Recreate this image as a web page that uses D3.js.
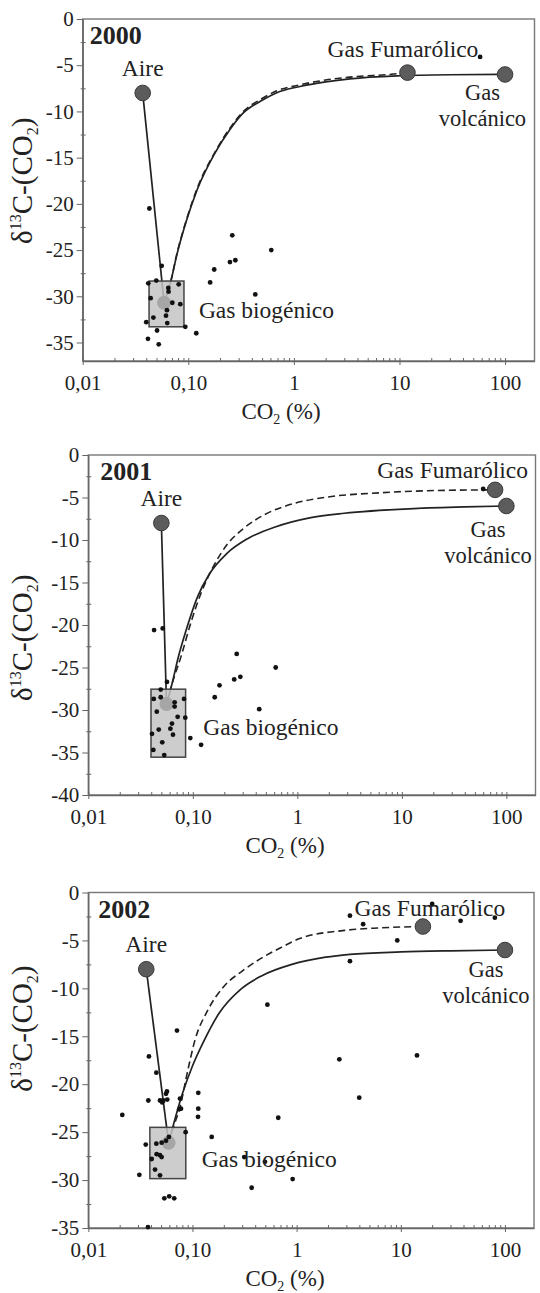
<!DOCTYPE html>
<html>
<head>
<meta charset="utf-8">
<script src="https://cdn.jsdelivr.net/npm/d3@7"></script>
<style>
body { margin: 0; background: #fff; }
svg text { font-family: "Liberation Serif", "Times New Roman", Times, "DejaVu Serif", serif; fill: #222; }
</style>
</head>
<body>
<svg id="chart" width="540" height="1293"></svg>
<script>
// Datos: CO2 (%) vs δ13C-(CO2)
const years = ["2000", "2001", "2002"];
const xTickValues = [0.01, 0.1, 1, 10, 100];
const xTickLabels = ["0,01", "0,10", "1", "10", "100"];

// Miembros extremos [CO2, δ13C] por año
const aire = [[0.037, -8], [0.05, -8], [0.036, -8]];
const fumarolico = [[11.9, -5.8], [78, -4.1], [16.3, -3.55]];
const volcanico = [[100, -6], [100, -6], [100, -6]];
const biogenico = [[0.059, -30.7], [0.056, -29.3], [0.059, -26.1]];
// Caja del gas biogénico [CO2 min, CO2 max, δ superior, δ inferior]
const cajaBio = [[0.0425, 0.091, -28.35, -33.3], [0.0398, 0.0853, -27.55, -35.55], [0.039, 0.0863, -24.5, -29.85]];

// Muestras
const muestras2000 = [
    [0.0428, -20.5], [0.056, -26.7], [0.0418, -28.6], [0.0498, -28.3], [0.0811, -28.7],
    [0.0647, -29.1], [0.065, -29.5], [0.044, -30.2], [0.0706, -30.7], [0.084, -30.85],
    [0.0628, -31.5], [0.0615, -32.1], [0.0467, -32.3], [0.040, -32.8], [0.0632, -32.9],
    [0.0937, -33.3], [0.0506, -33.7], [0.0415, -34.6], [0.0525, -35.2], [0.119, -34.0],
    [0.161, -28.5], [0.176, -27.1], [0.248, -26.3], [0.279, -26.1], [0.261, -23.4],
    [0.431, -29.8], [0.611, -25.0], [58, -4.1]
];
const muestras2001 = [
    [0.0426, -20.6], [0.0515, -20.4], [0.0566, -26.7], [0.0493, -27.6], [0.0493, -28.5],
    [0.0423, -28.7], [0.067, -29.1], [0.067, -29.6], [0.0824, -28.7], [0.0452, -30.2],
    [0.0716, -30.8], [0.0847, -30.9], [0.0632, -31.6], [0.061, -32.2], [0.0472, -32.3],
    [0.0646, -32.9], [0.0407, -32.8], [0.0946, -33.3], [0.051, -33.8], [0.12, -34.1],
    [0.0419, -34.7], [0.0533, -35.3], [0.162, -28.5], [0.18, -27.1], [0.249, -26.4],
    [0.285, -26.1], [0.263, -23.4], [0.432, -29.9], [0.621, -25.0], [60, -4.0]
];
const muestras2002 = [
    [0.0212, -23.2], [0.0382, -17.1], [0.045, -18.8], [0.0377, -21.7], [0.0488, -21.7],
    [0.0513, -21.9], [0.0525, -21.7], [0.0557, -21.0], [0.0569, -20.75], [0.0573, -21.6],
    [0.071, -14.4], [0.0759, -21.5], [0.0747, -22.6], [0.0776, -22.55], [0.1137, -20.9],
    [0.1137, -22.55], [0.113, -23.4], [0.086, -25.0], [0.153, -25.5], [0.0356, -26.3],
    [0.045, -26.2], [0.0506, -26.1], [0.0557, -25.9], [0.0594, -25.5], [0.0453, -27.3],
    [0.0488, -27.4], [0.0506, -27.6], [0.0406, -27.8], [0.0437, -28.9], [0.0309, -29.45],
    [0.0488, -29.5], [0.0537, -31.9], [0.0598, -31.7], [0.0668, -31.9], [0.0374, -34.9],
    [0.314, -27.6], [0.496, -28.1], [0.37, -30.8], [0.916, -29.9], [0.666, -23.5],
    [0.524, -11.7], [2.57, -17.4], [3.99, -21.4], [3.25, -7.16], [3.25, -2.42],
    [4.35, -3.3], [9.25, -5.0], [14.3, -17.0], [20, -1.2], [37.5, -2.95], [80, -2.63]
];

// Curvas de mezcla (biogénico -> volcánico: continua; biogénico -> fumarólico: discontinua)
const mezclaVolc2000 = [
    [0.059, -30.7], [0.0686, -28.3], [0.0776, -25.6], [0.095, -22.0], [0.1216, -18.45],
    [0.177, -14.6], [0.25, -11.9], [0.323, -10.3], [0.5, -8.8], [0.68, -8.0], [1.14, -7.3],
    [2, -6.8], [3.4, -6.47], [9.4, -6.15], [30, -6.03], [100, -6]
];
const mezclaFum2000 = [
    [0.059, -30.7], [0.0686, -28.3], [0.0776, -25.5], [0.095, -21.9], [0.1216, -18.3],
    [0.177, -14.5], [0.25, -11.75], [0.323, -10.15], [0.5, -8.6], [0.68, -7.8], [1.14, -7.12],
    [2, -6.6], [3.4, -6.29], [9.4, -5.93], [11.9, -5.8]
];
const mezclaVolc2001 = [
    [0.056, -29.3], [0.063, -27.0], [0.0726, -23.8], [0.0879, -20.3], [0.1104, -16.75],
    [0.144, -14.0], [0.211, -11.6], [0.334, -9.85], [0.614, -8.47], [1.31, -7.4],
    [2.82, -6.85], [13, -6.3], [40, -6.1], [100, -6.0]
];
const mezclaFum2001 = [
    [0.056, -29.3], [0.063, -27.0], [0.0783, -23.45], [0.0948, -19.9], [0.119, -16.35],
    [0.156, -13.2], [0.211, -10.6], [0.309, -8.6], [0.489, -7.0], [0.9, -5.75],
    [1.93, -4.95], [6.04, -4.45], [27.8, -4.15], [78, -4.1]
];
const mezclaVolc2002 = [
    [0.059, -26.1], [0.0646, -24.5], [0.08, -21.0], [0.1, -18.1], [0.13, -15.4],
    [0.18, -12.6], [0.29, -10.1], [0.46, -8.7], [0.9, -7.5], [1.9, -6.75],
    [3.25, -6.45], [10, -6.2], [30, -6.08], [100, -6.0]
];
const mezclaFum2002 = [
    [0.059, -26.1], [0.066, -24.4], [0.0759, -22.4], [0.09, -18.6], [0.1057, -15.4],
    [0.14, -12.3], [0.2, -9.8], [0.3, -8.2], [0.45, -6.9], [0.72, -5.7],
    [1.07, -4.8], [2.9, -3.95], [6, -3.7], [16.3, -3.55]
];

const muestras = [muestras2000, muestras2001, muestras2002];
const mezclaVolc = [mezclaVolc2000, mezclaVolc2001, mezclaVolc2002];
const mezclaFum = [mezclaFum2000, mezclaFum2001, mezclaFum2002];

// Disposición de cada panel (píxeles) y posición de las etiquetas (en unidades de datos)
const layout = [
    { top: 19, bottom: 361, left: 82.7, right: 534.5, yMin: -37, yTitleAt: -17.5, xTitleX: 281,
      fumLbl: [10.8, -4.07], volLbl: [61, -9.09], bioLbl: [0.126, -32.3], yearDx: 7 },
    { top: 455, bottom: 795, left: 88.3, right: 535.5, yMin: -40, yTitleAt: -21.5, xTitleX: 285,
      fumLbl: [30.6, -2.74], volLbl: [66.8, -10.0], bioLbl: [0.126, -32.9], yearDx: 12 },
    { top: 892.5, bottom: 1228, left: 88.3, right: 534, yMin: -35, yTitleAt: -14.2, xTitleX: 285,
      fumLbl: [19.0, -2.46], volLbl: [65.6, -9.14], bioLbl: [0.1225, -28.6], yearDx: 10 }
];

const svg = d3.select("#chart");

years.forEach((year, i) => {
    const L = layout[i];
    const x = d3.scaleLog().domain([0.01, 190]).range([L.left, L.right]);
    const y = d3.scaleLinear().domain([L.yMin, 0]).range([L.bottom, L.top]);
    const g = svg.append("g");

    // Marco
    g.append("rect")
        .attr("x", L.left).attr("y", L.top)
        .attr("width", L.right - L.left).attr("height", L.bottom - L.top)
        .attr("fill", "none").attr("stroke", "#777").attr("stroke-width", 1.4);

    // Eje X: marcas menores
    const minorX = [];
    xTickValues.forEach(d => { for (let k = 2; k <= 9; k++) if (d * k <= 190) minorX.push(d * k); });
    g.append("g")
        .attr("transform", `translate(0,${L.bottom})`)
        .call(d3.axisBottom(x).tickValues(minorX).tickSize(-3).tickSizeOuter(0).tickFormat(""))
        .call(a => a.select(".domain").remove())
        .call(a => a.selectAll("line").attr("stroke", "#666"));

    // Eje X: marcas principales
    g.append("g")
        .attr("transform", `translate(0,${L.bottom})`)
        .call(d3.axisBottom(x).tickValues(xTickValues).tickFormat((d, k) => xTickLabels[k])
            .tickSize(4).tickSizeOuter(0).tickPadding(10))
        .call(a => a.select(".domain").attr("stroke", "#666").attr("stroke-width", 1.4))
        .call(a => a.selectAll(".tick line").attr("y1", -3).attr("stroke", "#666"))
        .call(a => a.selectAll("text").style("font-size", "21px").attr("fill", "#222"));

    // Eje Y
    const majorY = d3.range(0, L.yMin - 0.01, -5);
    const minorY = d3.range(-2.5, L.yMin - 0.01, -5);
    g.append("g")
        .attr("transform", `translate(${L.left},0)`)
        .call(d3.axisLeft(y).tickValues(minorY).tickSize(2).tickSizeOuter(0).tickFormat(""))
        .call(a => a.select(".domain").remove())
        .call(a => a.selectAll("line").attr("x2", -2).attr("x1", 3).attr("stroke", "#666"));
    g.append("g")
        .attr("transform", `translate(${L.left},0)`)
        .call(d3.axisLeft(y).tickValues(majorY).tickSize(6).tickSizeOuter(0).tickPadding(3)
            .tickFormat(d => d === 0 ? "0" : "-" + Math.abs(d)))
        .call(a => a.select(".domain").attr("stroke", "#666").attr("stroke-width", 1.4))
        .call(a => a.selectAll(".tick line").attr("stroke", "#666"))
        .call(a => a.selectAll("text").style("font-size", "21px").attr("fill", "#222"));

    // Títulos de ejes
    const xt = g.append("text")
        .attr("x", L.xTitleX).attr("y", L.bottom + 58)
        .attr("text-anchor", "middle").style("font-size", "23px");
    xt.append("tspan").text("CO");
    xt.append("tspan").attr("dy", 5).style("font-size", "14px").text("2");
    xt.append("tspan").attr("dy", -5).text(" (%)");

    const yt = g.append("text")
        .attr("transform", `translate(32,${y(L.yTitleAt)}) rotate(-90)`)
        .attr("text-anchor", "middle").style("font-size", "29px");
    yt.append("tspan").text("δ");
    yt.append("tspan").attr("dy", -11).style("font-size", "16px").text("13");
    yt.append("tspan").attr("dy", 11).text("C-(CO");
    yt.append("tspan").attr("dy", 6).style("font-size", "16px").text("2");
    yt.append("tspan").attr("dy", -6).text(")");

    // Líneas de mezcla
    const line = d3.line().x(d => x(d[0])).y(d => y(d[1]));
    const curve = d3.line().x(d => x(d[0])).y(d => y(d[1])).curve(d3.curveMonotoneX);

    g.append("path").datum([aire[i], biogenico[i]])
        .attr("d", line).attr("fill", "none").attr("stroke", "#222").attr("stroke-width", 1.7);
    g.append("path").datum(mezclaFum[i])
        .attr("d", curve).attr("fill", "none").attr("stroke", "#222").attr("stroke-width", 1.6)
        .attr("stroke-dasharray", "7,4");
    g.append("path").datum(mezclaVolc[i])
        .attr("d", curve).attr("fill", "none").attr("stroke", "#222").attr("stroke-width", 1.7);

    // Caja biogénica
    const c = cajaBio[i];
    g.append("rect")
        .attr("x", x(c[0])).attr("y", y(c[2]))
        .attr("width", x(c[1]) - x(c[0])).attr("height", y(c[3]) - y(c[2]))
        .attr("fill", "#c4c4c4").attr("fill-opacity", 0.85)
        .attr("stroke", "#444").attr("stroke-width", 1.5);
    g.append("circle")
        .attr("cx", x(biogenico[i][0])).attr("cy", y(biogenico[i][1])).attr("r", 7)
        .attr("fill", "#a6a6a6");

    // Muestras
    g.selectAll(".dot")
        .data(muestras[i])
        .enter()
        .append("circle")
        .attr("cx", d => x(d[0]))
        .attr("cy", d => y(d[1]))
        .attr("r", 2.4)
        .attr("fill", "#111");

    // Miembros extremos
    [aire[i], fumarolico[i], volcanico[i]].forEach(p => {
        g.append("circle")
            .attr("cx", x(p[0])).attr("cy", y(p[1])).attr("r", 7.8)
            .attr("fill", "#5c5c5c").attr("stroke", "#3a3a3a").attr("stroke-width", 1);
    });

    // Etiquetas
    const lbl = (px, py, txt, anchor, size) => g.append("text")
        .attr("x", px).attr("y", py).attr("text-anchor", anchor)
        .style("font-size", size || "23.5px").text(txt);

    lbl(x(aire[i][0]), y(aire[i][1]) - 17, "Aire", "middle");
    lbl(x(L.fumLbl[0]), y(L.fumLbl[1]), "Gas Fumarólico", "middle");
    lbl(x(L.bioLbl[0]), y(L.bioLbl[1]), "Gas biogénico", "start");

    // "Gas volcánico" en dos líneas
    lbl(x(L.volLbl[0]), y(L.volLbl[1]) - 3, "Gas", "middle", "22.5px");
    lbl(x(L.volLbl[0]), y(L.volLbl[1]) + 22.5, "volcánico", "middle", "22.5px");

    g.append("text")
        .attr("x", L.left + L.yearDx).attr("y", L.top + 25)
        .style("font-size", "26px").style("font-weight", "bold")
        .text(year);
});
</script>
</body>
</html>
